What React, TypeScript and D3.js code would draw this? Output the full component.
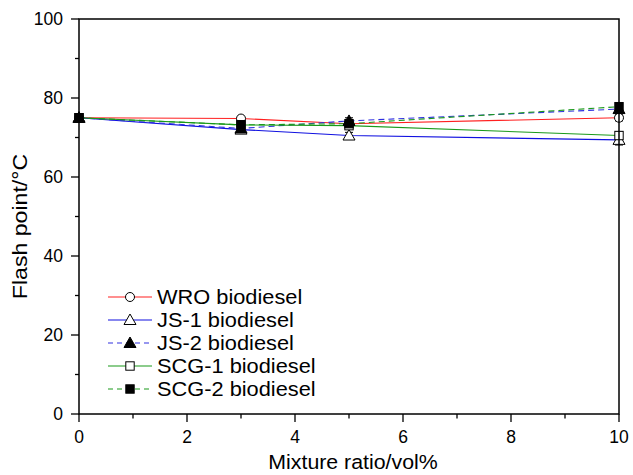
import React from "react";
import * as d3 from "d3";

const xValues = [0, 3, 5, 10];
const wro = [75, 74.8, 73.5, 75];
const js1 = [75, 72, 70.5, 69.4];
const js2 = [75, 72.3, 74.2, 77.2];
const scg1 = [75, 73.2, 73, 70.5];
const scg2 = [75, 73.2, 73.5, 77.8];
const errWro = [0, 0.6, 0.6, 0.8];
const errJs1 = [0, 0.8, 0.8, 1.3];
const errJs2 = [0, 0.8, 0.8, 0.8];
const errScg1 = [0, 0.6, 0.6, 1];
const errScg2 = [0, 0.6, 1, 0.8];
const seriesNames = ["WRO biodiesel", "JS-1 biodiesel", "JS-2 biodiesel", "SCG-1 biodiesel", "SCG-2 biodiesel"];
const xTicks = [0, 2, 4, 6, 8, 10];
const yTicks = [0, 20, 40, 60, 80, 100];

type S = { name: string; vals: number[]; err: number[]; color: string; dash?: string; marker: string };

const series: S[] = [
  { name: seriesNames[0], vals: wro, err: errWro, color: "#ff2020", marker: "circleOpen" },
  { name: seriesNames[1], vals: js1, err: errJs1, color: "#1010e0", marker: "triOpen" },
  { name: seriesNames[2], vals: js2, err: errJs2, color: "#3030e0", dash: "6,4", marker: "triFilled" },
  { name: seriesNames[3], vals: scg1, err: errScg1, color: "#1a9a1a", marker: "sqOpen" },
  { name: seriesNames[4], vals: scg2, err: errScg2, color: "#1a9a1a", dash: "6,4", marker: "sqFilled" },
];

const FONT = "Liberation Sans, Arial, Helvetica, sans-serif";

function Marker({ type, x, y }: { type: string; x: number; y: number }) {
  if (type === "circleOpen") return <circle cx={x} cy={y} r={4.5} fill="white" stroke="black" strokeWidth={1} />;
  if (type === "triOpen" || type === "triFilled") {
    const s = 6;
    const p = `${x},${y - s} ${x - s},${y + s * 0.75} ${x + s},${y + s * 0.75}`;
    return <polygon points={p} fill={type === "triFilled" ? "black" : "white"} stroke="black" strokeWidth={1} />;
  }
  const h = 4.2;
  return <rect x={x - h} y={y - h} width={2 * h} height={2 * h} fill={type === "sqFilled" ? "black" : "white"} stroke="black" strokeWidth={1} />;
}

export default function App() {
  const W = 633, H = 475;
  const x = d3.scaleLinear().domain([0, 10]).range([79, 619]);
  const y = d3.scaleLinear().domain([0, 100]).range([414, 19]);
  const line = d3.line<number>().x((_, i) => x(xValues[i])).y((d) => y(d));
  const xMinor = d3.range(1, 10, 2);
  const yMinor = d3.range(10, 100, 20);
  const legendY = [297, 320, 343, 366, 389];

  return (
    <svg width={W} height={H} style={{ position: "absolute", left: 0, top: 0, background: "white" }} fontFamily={FONT}>
      <rect x={0} y={0} width={W} height={H} fill="white" />
      {series.map((s) => (
        <path key={s.name} d={line(s.vals) || ""} fill="none" stroke={s.color} strokeWidth={1.1} strokeDasharray={s.dash} />
      ))}
      {series.map((s) =>
        s.vals.map((v, i) =>
          s.err[i] > 0 ? (
            <g key={s.name + i} stroke="black" strokeWidth={1}>
              <line x1={x(xValues[i])} x2={x(xValues[i])} y1={y(v - s.err[i])} y2={y(v + s.err[i])} />
              <line x1={x(xValues[i]) - 4} x2={x(xValues[i]) + 4} y1={y(v - s.err[i])} y2={y(v - s.err[i])} />
              <line x1={x(xValues[i]) - 4} x2={x(xValues[i]) + 4} y1={y(v + s.err[i])} y2={y(v + s.err[i])} />
            </g>
          ) : null
        )
      )}
      {series.map((s) => s.vals.map((v, i) => <Marker key={s.name + "m" + i} type={s.marker} x={x(xValues[i])} y={y(v)} />))}
      <rect x={x(0)} y={y(100)} width={x(10) - x(0)} height={y(0) - y(100)} fill="none" stroke="black" strokeWidth={1.5} />
      {xTicks.map((t) => (
        <g key={"xt" + t}>
          <line x1={x(t)} x2={x(t)} y1={y(0)} y2={y(0) + 8} stroke="black" strokeWidth={1.3} />
          <text x={x(t)} y={y(0) + 29} textAnchor="middle" fontSize={17.5} fill="black">{t}</text>
        </g>
      ))}
      {xMinor.map((t) => (
        <line key={"xm" + t} x1={x(t)} x2={x(t)} y1={y(0)} y2={y(0) + 4.5} stroke="black" strokeWidth={1.3} />
      ))}
      {yTicks.map((t) => (
        <g key={"yt" + t}>
          <line x1={x(0) - 8} x2={x(0)} y1={y(t)} y2={y(t)} stroke="black" strokeWidth={1.3} />
          <text x={x(0) - 16} y={y(t) + 6.2} textAnchor="end" fontSize={17.5} fill="black">{t}</text>
        </g>
      ))}
      {yMinor.map((t) => (
        <line key={"ym" + t} x1={x(0) - 4} x2={x(0)} y1={y(t)} y2={y(t)} stroke="black" strokeWidth={1.3} />
      ))}
      <text transform={`translate(${(x(0) + x(10)) / 2 + 4}, 469) scale(1.04, 1)`} textAnchor="middle" fontSize={20.5} fill="black">Mixture ratio/vol%</text>
      <text transform={`translate(27, ${(y(0) + y(100)) / 2 + 10}) rotate(-90) scale(1.1, 1)`} textAnchor="middle" fontSize={21} fill="black">Flash point/°C</text>
      {series.map((s, i) => (
        <g key={"lg" + s.name}>
          <line x1={108} x2={152} y1={legendY[i]} y2={legendY[i]} stroke={s.color} strokeWidth={1.1} strokeDasharray={s.dash ? "5,4" : undefined} />
          <Marker type={s.marker} x={130} y={legendY[i]} />
          <text transform={`translate(157, ${legendY[i] + 7}) scale(1.09, 1)`} fontSize={20} fill="black">{s.name}</text>
        </g>
      ))}
    </svg>
  );
}
